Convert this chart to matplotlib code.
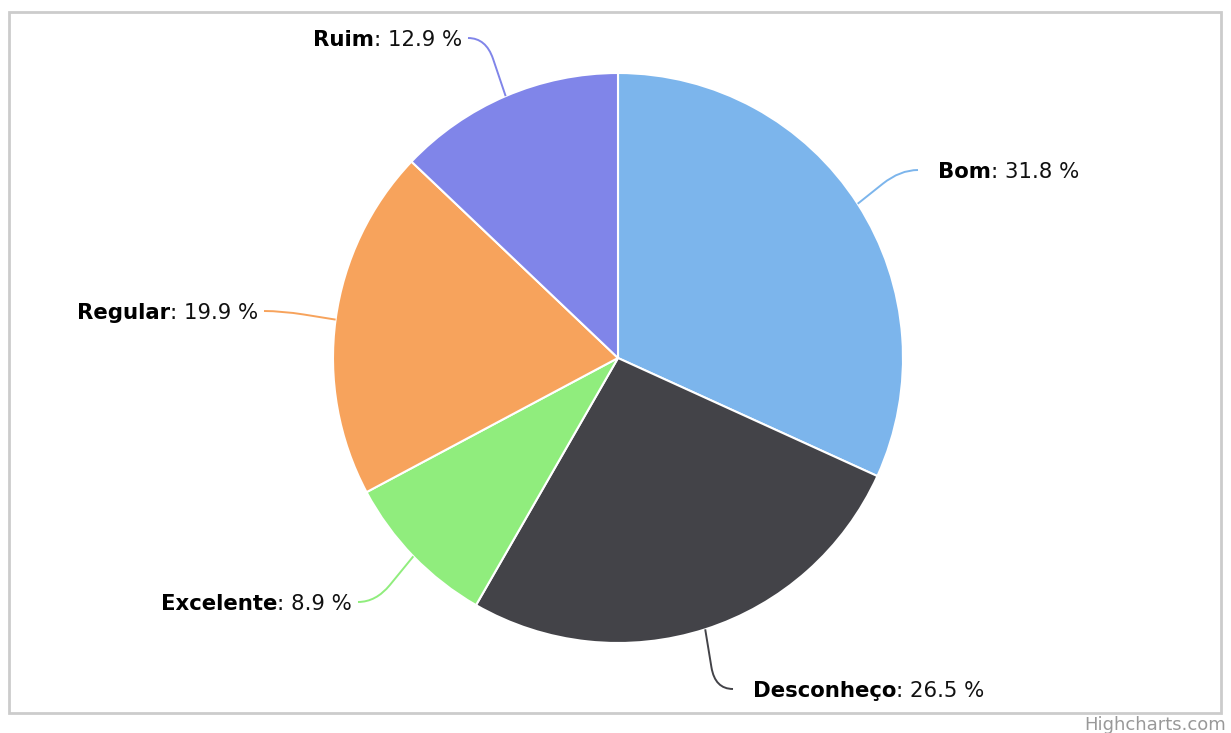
import matplotlib
matplotlib.use("Agg")
import matplotlib.pyplot as plt
from matplotlib.path import Path
from matplotlib.patches import PathPatch, Rectangle
import numpy as np

# data
categories = ["Bom", "Desconheço", "Excelente", "Regular", "Ruim"]
shares = [31.8, 26.5, 8.9, 19.9, 12.9]
colors = ["#7cb5ec", "#434348", "#90ed7d", "#f7a35c", "#8085e9"]

# label layout (pixel coords, y from top) and which side the text sits on
label_pos = [(938, 172), (753, 691), (352, 604), (258, 313), (462, 40)]
label_side = [1, 1, -1, -1, -1]

W, H = 1231, 733
fig = plt.figure(figsize=(W / 100, H / 100), dpi=100)
ax = fig.add_axes([0, 0, 1, 1])

cx, cy, r = 618, H - 358, 285

wedges, _ = ax.pie(shares, colors=colors, startangle=90, counterclock=False,
                   center=(cx, cy), radius=r, frame=True,
                   wedgeprops=dict(edgecolor="white", linewidth=1.5))
ax.set_xlim(0, W)
ax.set_ylim(0, H)
ax.axis("off")

fs = 15.3
for w, name, val, (lx, ly), side, col in zip(wedges, categories, shares, label_pos, label_side, colors):
    ang = np.deg2rad((w.theta1 + w.theta2) / 2)
    p0 = np.array([cx + r * np.cos(ang), cy + r * np.sin(ang)])
    ly = H - ly
    end = np.array([lx + (-20 if side == 1 else 6), ly + 2])
    corner = np.array([end[0] - side * 18, end[1]])
    d = p0 - corner
    q = corner + d / np.linalg.norm(d) * 22
    path = Path([p0, q, corner, end], [Path.MOVETO, Path.LINETO, Path.CURVE3, Path.CURVE3])
    ax.add_patch(PathPatch(path, fill=False, edgecolor=col, lw=1.4))

    if side == 1:
        t = ax.text(lx, ly, name, fontsize=fs, fontweight="bold", ha="left", va="center", color="black")
        ax.annotate(": %.1f %%" % val, xy=(1, 0.5), xycoords=t, fontsize=fs,
                    ha="left", va="center", color="#111111")
    else:
        t = ax.text(lx, ly, ": %.1f %%" % val, fontsize=fs, ha="right", va="center", color="#111111")
        ax.annotate(name, xy=(0, 0.5), xycoords=t, fontsize=fs, fontweight="bold",
                    ha="right", va="center", color="black")

ax.add_patch(Rectangle((9, H - 713), 1212, 701, fill=False, edgecolor="#cccccc", lw=2))
ax.text(1226, H - 725, "Highcharts.com", fontsize=13, color="#999999", ha="right", va="center")

fig.savefig("out.png", dpi=100)
